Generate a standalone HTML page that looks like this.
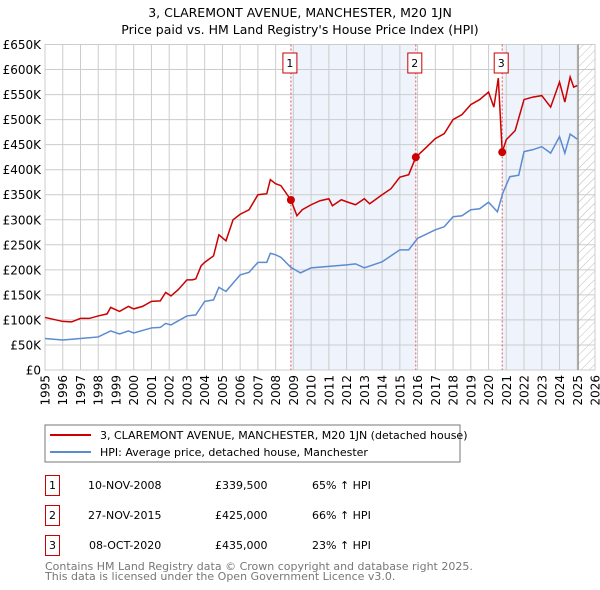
<!DOCTYPE html>
<html><head><meta charset="utf-8"><style>
body{margin:0;background:#fff;}
svg{display:block;font-family:"DejaVu Sans","Liberation Sans",sans-serif;}
</style></head><body>
<svg id="c" width="600" height="590" xmlns="http://www.w3.org/2000/svg">
<defs><pattern id="hatch" width="6" height="6" patternUnits="userSpaceOnUse" patternTransform="rotate(45)"><line x1="0" y1="0" x2="0" y2="6" stroke="#bbb" stroke-width="1"/></pattern></defs>
<text x="300" y="17" text-anchor="middle" font-size="12.5">3, CLAREMONT AVENUE, MANCHESTER, M20 1JN</text>
<text x="300" y="34" text-anchor="middle" font-size="12.5">Price paid vs. HM Land Registry's House Price Index (HPI)</text>
<g id="plot"></g>
<rect x="45" y="425" width="415" height="37" fill="#fff" stroke="#777"/>
<line x1="50" y1="435" x2="91" y2="435" stroke="#cc0000" stroke-width="2"/>
<text x="100" y="439" font-size="11">3, CLAREMONT AVENUE, MANCHESTER, M20 1JN (detached house)</text>
<line x1="50" y1="452" x2="91" y2="452" stroke="#5b8bd0" stroke-width="2"/>
<text x="100" y="456" font-size="11">HPI: Average price, detached house, Manchester</text>
<g font-size="11">
<rect x="45.5" y="475.5" width="14" height="20" fill="none" stroke="#cc0000"/><text x="52.5" y="489" text-anchor="middle">1</text>
<text x="88" y="489">10-NOV-2008</text><text x="215" y="489">£339,500</text><text x="312" y="489">65% ↑ HPI</text>
<rect x="45.5" y="505.5" width="14" height="20" fill="none" stroke="#cc0000"/><text x="52.5" y="519" text-anchor="middle">2</text>
<text x="88" y="519">27-NOV-2015</text><text x="215" y="519">£425,000</text><text x="312" y="519">66% ↑ HPI</text>
<rect x="45.5" y="535.5" width="14" height="20" fill="none" stroke="#cc0000"/><text x="52.5" y="549" text-anchor="middle">3</text>
<text x="89" y="549">08-OCT-2020</text><text x="215" y="549">£435,000</text><text x="312" y="549">23% ↑ HPI</text>
</g>
<text x="45" y="570" font-size="11" fill="#777">Contains HM Land Registry data © Crown copyright and database right 2025.</text>
<text x="45" y="580" font-size="11" fill="#777">This data is licensed under the Open Government Licence v3.0.</text>
</svg>
<script>
const redDates=[1995,1995.5,1996,1996.5,1997,1997.5,1998,1998.5,1998.7,1999.2,1999.7,2000,2000.5,2001,2001.5,2001.8,2002.1,2002.5,2003,2003.3,2003.5,2003.8,2004,2004.5,2004.8,2005.2,2005.6,2006,2006.5,2007,2007.5,2007.7,2008,2008.3,2008.86,2009.2,2009.5,2010,2010.5,2011,2011.2,2011.7,2012,2012.5,2013,2013.3,2014,2014.5,2015,2015.5,2015.9,2016.5,2017,2017.5,2018,2018.5,2019,2019.5,2020,2020.3,2020.55,2020.77,2021,2021.5,2022,2022.5,2023,2023.5,2024,2024.3,2024.6,2024.8,2025];
const redValues=[105,101,97,96,103,103,108,112,125,117,127,122,127,137,138,155,148,160,180,180,182,208,215,228,270,258,300,311,320,350,352,380,372,368,339.5,308,320,330,338,342,328,340,336,330,342,332,350,362,385,390,425,445,462,472,500,510,530,540,555,525,583,435,460,478,540,545,548,525,575,535,585,565,568];
const hpiDates=[1995,1996,1997,1998,1998.7,1999.2,1999.7,2000,2001,2001.5,2001.8,2002.1,2003,2003.5,2004,2004.5,2004.8,2005.2,2006,2006.5,2007,2007.5,2007.7,2008,2008.3,2008.86,2009.4,2010,2011,2012,2012.5,2013,2014,2015,2015.5,2016,2017,2017.5,2018,2018.5,2019,2019.5,2020,2020.5,2020.8,2021.2,2021.7,2022,2022.5,2023,2023.5,2024,2024.3,2024.6,2025];
const hpiValues=[63,60,63,66,78,72,78,74,84,85,93,90,108,110,137,140,165,157,190,195,215,215,233,230,225,205,194,204,207,210,212,204,216,240,240,263,280,286,306,308,320,322,335,316,353,386,389,436,440,446,433,466,433,471,461];
const saleDates=[2008.86,2015.9,2020.77];
const salePrices=[339.5,425,435];
const saleLabels=["1","2","3"];
const yTicks=[0,50,100,150,200,250,300,350,400,450,500,550,600,650];
const yTickLabels=["£0","£50K","£100K","£150K","£200K","£250K","£300K","£350K","£400K","£450K","£500K","£550K","£600K","£650K"];
const xYears=[1995,1996,1997,1998,1999,2000,2001,2002,2003,2004,2005,2006,2007,2008,2009,2010,2011,2012,2013,2014,2015,2016,2017,2018,2019,2020,2021,2022,2023,2024,2025,2026];
const NS="http://www.w3.org/2000/svg";
const L=45,R=595,T=44.5,B=370;
const x=v=>L+(v-1995)/31*(R-L);
const y=v=>B-v/650*(B-T);
const g=document.getElementById('plot');
function mk(t,a,p){const e=document.createElementNS(NS,t);for(const k in a)e.setAttribute(k,a[k]);(p||g).appendChild(e);return e;}
mk('rect',{x:L,y:T,width:R-L,height:B-T,fill:'#fff'});
let e;
e=mk('rect',{x:x(saleDates[0]),y:T,width:x(saleDates[1])-x(saleDates[0]),height:B-T,fill:'#eef3fc'});


e=mk('rect',{x:x(saleDates[2]),y:T,width:x(2025.05)-x(saleDates[2]),height:B-T,fill:'#eef3fc'});


e=mk('rect',{x:x(2025.05),y:T,width:R-x(2025.05),height:B-T,fill:'url(#hatch)'});


yTicks.forEach((v,i)=>{
 mk('line',{x1:L,x2:R,y1:y(v),y2:y(v),stroke:'#ccc','stroke-width':1});
 e=mk('text',{x:L-4,y:y(v)+4.5,'text-anchor':'end','font-size':12});
 e.textContent=yTickLabels[i];
 
 
});
xYears.forEach(v=>{
 mk('line',{x1:x(v),x2:x(v),y1:T,y2:B,stroke:'#ccc','stroke-width':1});
 const tx=x(v)+4.5, ty=B+5;
 e=mk('text',{x:tx,y:ty,'text-anchor':'end','font-size':12,transform:'rotate(-90 '+tx+' '+ty+')'});
 e.textContent=v;
 
 
});
mk('rect',{x:L,y:T,width:R-L,height:B-T,fill:'none',stroke:'#ccc'});
mk('line',{x1:x(2025.05),x2:x(2025.05),y1:T,y2:B,stroke:'#888','stroke-width':1.2});
saleDates.forEach(d=>{mk('line',{x1:x(d),x2:x(d),y1:T,y2:B,stroke:'#e05555','stroke-dasharray':'2,2','stroke-width':1});});
e=mk('polyline',{points:hpiDates.map((d,i)=>x(d)+','+y(hpiValues[i])).join(' '),fill:'none',stroke:'#5b8bd0','stroke-width':1.5});


e=mk('polyline',{points:redDates.map((d,i)=>x(d)+','+y(redValues[i])).join(' '),fill:'none',stroke:'#cc0000','stroke-width':1.5});


saleDates.forEach((d,i)=>{
 e=mk('circle',{cx:x(d),cy:y(salePrices[i]),r:4,fill:'#cc0000'});
 
 
 const bx=x(d)-7;
 e=mk('rect',{x:bx-1,y:53,width:14,height:20,fill:'#fff',stroke:'#cc0000'});
 
 
 e=mk('text',{x:bx+6,y:67,'text-anchor':'middle','font-size':11});
 e.textContent=saleLabels[i];
});
</script>
</body></html>
